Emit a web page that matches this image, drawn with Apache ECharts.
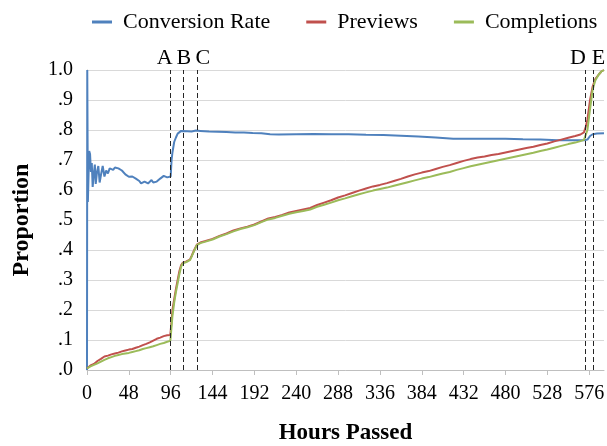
<!DOCTYPE html>
<html>
<head>
<meta charset="utf-8">
<script src="https://cdn.jsdelivr.net/npm/echarts@6/dist/echarts.min.js"></script>
<style>html,body{margin:0;padding:0;background:#fff;}#c{width:607px;height:446px;}</style>
</head>
<body>
<div id="c"></div>
<script>
// ---- data ----
var convHours = [0,0.3,1,2.5,3.5,4.5,5.5,6.5,8,9,10,11.5,13,14.5,16,18,20,22,24,26,28,30,32,34,36,38,40,42,44,46,48,50,52,54,56,58,60,62,64,66,68,70,72,74,76,78,80,82,84,86,88,90,92,94,96,97,98,100,102,104,106,108,110,115,120,125,130,140,150,160,170,180,190,200,210,220,240,260,280,300,320,340,360,380,400,420,440,460,480,500,520,540,560,570,572,574,577,580,585,593];
var convValues = [0.0,1.0,0.56,0.73,0.72,0.66,0.69,0.61,0.66,0.685,0.62,0.66,0.68,0.625,0.65,0.68,0.645,0.665,0.655,0.672,0.668,0.667,0.675,0.678,0.672,0.668,0.665,0.66,0.652,0.648,0.644,0.648,0.645,0.64,0.638,0.633,0.63,0.622,0.626,0.628,0.622,0.622,0.628,0.633,0.625,0.62,0.628,0.633,0.638,0.642,0.647,0.645,0.642,0.642,0.645,0.70,0.725,0.76,0.775,0.788,0.793,0.797,0.795,0.796,0.795,0.798,0.797,0.795,0.794,0.793,0.792,0.792,0.79,0.789,0.786,0.785,0.786,0.787,0.786,0.786,0.784,0.783,0.781,0.778,0.775,0.771,0.771,0.771,0.771,0.769,0.768,0.766,0.766,0.766,0.762,0.768,0.78,0.786,0.788,0.789];

var pcHours = [0,4,8,12,16,20,24,28,32,36,40,44,48,52,56,60,64,68,72,76,80,84,88,92,95.5,96,98,100,102,104,106,108,110,114,118,120,123,126,130,136,144,152,160,168,176,184,192,200,208,216,224,232,240,248,256,264,272,280,288,296,304,312,320,328,336,344,352,360,368,376,384,392,400,408,416,424,432,440,448,456,464,472,480,488,496,504,512,520,528,536,544,552,560,566,570,572,574,577,580,583,587,590,593];
var previewValues = [0.005,0.015,0.02,0.03,0.037,0.045,0.048,0.052,0.055,0.058,0.062,0.065,0.068,0.07,0.074,0.078,0.083,0.087,0.092,0.098,0.104,0.108,0.113,0.116,0.117,0.13,0.2,0.235,0.27,0.3,0.33,0.35,0.358,0.362,0.368,0.38,0.4,0.418,0.425,0.43,0.437,0.447,0.455,0.465,0.472,0.478,0.485,0.495,0.505,0.51,0.517,0.525,0.53,0.535,0.54,0.55,0.558,0.566,0.575,0.582,0.59,0.598,0.605,0.612,0.617,0.623,0.63,0.637,0.645,0.652,0.658,0.663,0.67,0.677,0.683,0.69,0.697,0.703,0.708,0.712,0.717,0.72,0.725,0.73,0.735,0.74,0.744,0.75,0.755,0.762,0.768,0.774,0.78,0.785,0.792,0.81,0.835,0.9,0.945,0.97,0.985,0.995,1.0];
var completionValues = [0.005,0.012,0.017,0.022,0.028,0.034,0.039,0.043,0.047,0.05,0.053,0.055,0.057,0.06,0.063,0.066,0.07,0.073,0.076,0.079,0.083,0.087,0.09,0.094,0.097,0.11,0.18,0.225,0.26,0.29,0.32,0.345,0.356,0.36,0.366,0.378,0.398,0.416,0.423,0.428,0.435,0.445,0.453,0.462,0.47,0.476,0.483,0.493,0.502,0.507,0.514,0.521,0.526,0.53,0.535,0.544,0.551,0.558,0.566,0.572,0.579,0.586,0.592,0.598,0.603,0.608,0.614,0.62,0.626,0.632,0.638,0.643,0.649,0.655,0.66,0.667,0.673,0.679,0.684,0.689,0.694,0.699,0.704,0.709,0.714,0.719,0.724,0.73,0.735,0.741,0.747,0.753,0.758,0.763,0.767,0.772,0.8,0.87,0.935,0.965,0.985,0.995,1.0];

var eventNames = ['A','B','C','D','E'];
var eventHours = [96,110,127,571,581];

var xMax = 593;
var tickStep = 48;

function pairs(xs, ys){ return xs.map(function(x,i){ return [x, ys[i]]; }); }

var FONT = 'Liberation Serif';
var labelPads = {A:[0,12,0,0], B:[0,0,0,2], C:[0,0,0,10], D:[0,14,0,0], E:[0,0,0,10]};

var chart = echarts.init(document.getElementById('c'), null, {renderer:'canvas'});
chart.setOption({
  animation: false,
  backgroundColor: '#fff',
  textStyle: {fontFamily: FONT},
  grid: {left: 87, right: 3, top: 70, bottom: 76, containLabel: false, outerBoundsMode: 'none'},
  legend: {
    left: 87, top: 6, itemGap: 36, itemWidth: 20, itemHeight: 3, icon: 'rect',
    textStyle: {fontFamily: FONT, fontSize: 22, color: '#000', padding: [0,0,0,6]},
    data: ['Conversion Rate','Previews','Completions']
  },
  xAxis: {
    type: 'value', min: 0, max: xMax, interval: tickStep,
    name: 'Hours Passed', nameLocation: 'middle', nameGap: 52,
    nameTextStyle: {fontFamily: FONT, fontSize: 23, fontWeight: 'bold', color: '#000'},
    axisLine: {show: true, lineStyle: {color: '#bfbfbf', width: 1}},
    axisTick: {show: true, length: 5, lineStyle: {color: '#bfbfbf'}},
    splitLine: {show: false},
    axisLabel: {fontFamily: FONT, fontSize: 20, color: '#000', margin: 14, showMaxLabel: false,
      formatter: function(v){ return (v % tickStep === 0) ? String(v) : ''; }}
  },
  yAxis: {
    type: 'value', min: 0, max: 1, interval: 0.1,
    name: 'Proportion', nameLocation: 'middle', nameGap: 53, nameRotate: 90,
    nameTextStyle: {fontFamily: FONT, fontSize: 24, fontWeight: 'bold', color: '#000'},
    axisLine: {show: true, lineStyle: {color: '#bfbfbf'}},
    axisTick: {show: false},
    splitLine: {show: true, lineStyle: {color: '#d9d9d9', width: 1}},
    axisLabel: {fontFamily: FONT, fontSize: 20, color: '#000', margin: 14,
      formatter: function(v){ return v.toFixed(1).replace(/^0/, ''); }}
  },
  series: [
    {name: 'Conversion Rate', type: 'line', showSymbol: false, symbol: 'none',
     data: pairs(convHours, convValues), lineStyle: {color: '#4F81BD', width: 2}, itemStyle: {color: '#4F81BD'}},
    {name: 'Previews', type: 'line', showSymbol: false, symbol: 'none',
     data: pairs(pcHours, previewValues), lineStyle: {color: '#C0504D', width: 2}, itemStyle: {color: '#C0504D'}},
    {name: 'Completions', type: 'line', showSymbol: false, symbol: 'none',
     data: pairs(pcHours, completionValues), lineStyle: {color: '#9BBB59', width: 2}, itemStyle: {color: '#9BBB59'},
     markLine: {
       silent: true, symbol: 'none', animation: false,
       lineStyle: {color: '#262626', width: 1, type: [5,3]},
       label: {show: true, position: 'end', distance: 1, formatter: '{b}', fontFamily: FONT, fontSize: 22, color: '#000'},
       data: eventNames.map(function(n,i){
         return {name: n, xAxis: eventHours[i], label: {padding: labelPads[n]}};
       })
     }}
  ]
});
</script>
</body>
</html>
